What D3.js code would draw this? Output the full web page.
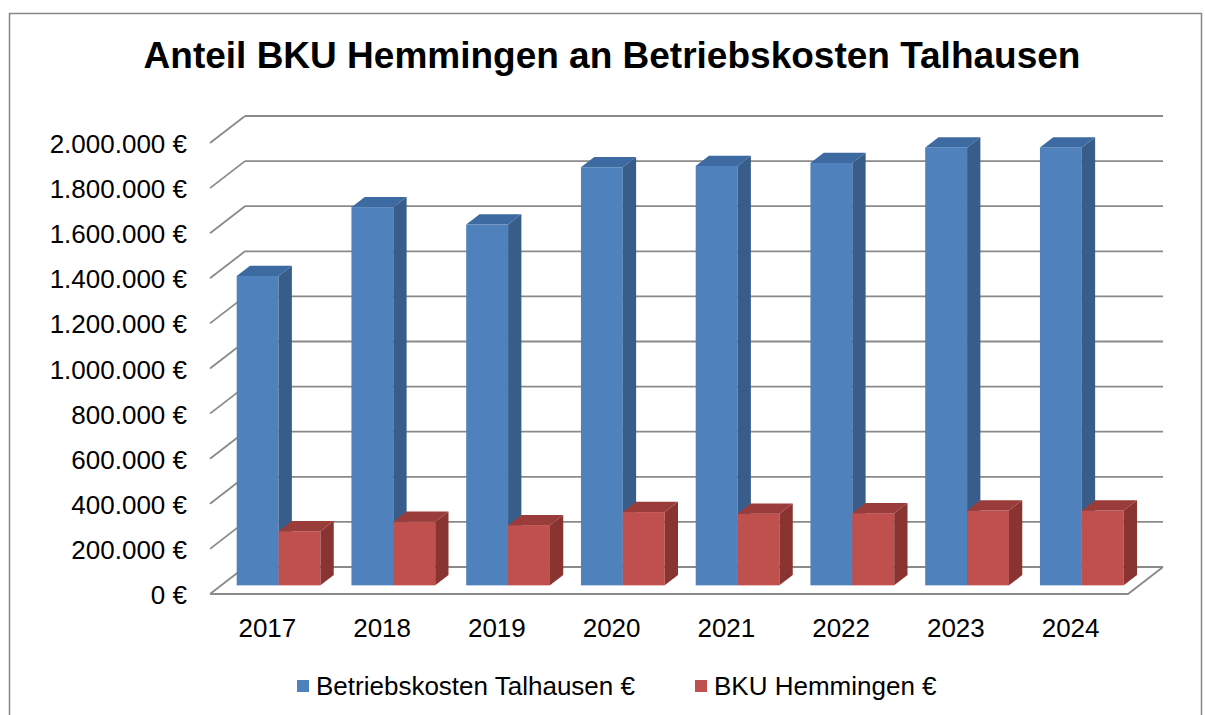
<!DOCTYPE html>
<html>
<head>
<meta charset="utf-8">
<script src="https://cdn.jsdelivr.net/npm/d3@7"></script>
<style>
  body { margin: 0; background: #fff; }
  text { font-family: "Liberation Sans", Arial, sans-serif; fill: #000; }
</style>
</head>
<body>
<script>
var years = ['2017', '2018', '2019', '2020', '2021', '2022', '2023', '2024'];
var betriebskosten = [1372000, 1677000, 1600000, 1854000, 1860000, 1873000, 1942000, 1942000];
var bkuHemmingen = [240000, 282000, 267000, 325000, 318000, 320000, 332000, 332000];
var seriesNames = ['Betriebskosten Talhausen €', 'BKU Hemmingen €'];
var yTicks = [0, 200000, 400000, 600000, 800000, 1000000, 1200000, 1400000, 1600000, 1800000, 2000000];

var width = 1205, height = 715;
var front = { left: 210, right: 1128, bottom: 594 };
var depthX = 35, depthY = 27;          // oblique offset of back wall
var f0 = 0.32, f1 = 0.70;              // bar depth position (fraction)

var colors = {
  front: ['#4f81bd', '#c0504d'],
  side:  ['#385d8a', '#8a3432'],
  top:   ['#3d6aa1', '#9a3d3a']
};

var fmt = d3.formatLocale({ decimal: ',', thousands: '.', grouping: [3], currency: ['', ''] }).format(',.0f');

var svg = d3.select('body')
  .append('svg')
  .attr('width', width)
  .attr('height', height);

// outer border
svg.append('rect')
  .attr('x', 9.5).attr('y', 13.5)
  .attr('width', 1192).attr('height', 720)
  .attr('fill', '#fff')
  .attr('stroke', '#868686')
  .attr('stroke-width', 1.5);

svg.append('text')
  .attr('x', 612).attr('y', 68)
  .attr('text-anchor', 'middle')
  .attr('font-size', 37)
  .attr('font-weight', 'bold')
  .text('Anteil BKU Hemmingen an Betriebskosten Talhausen');

var y = d3.scaleLinear()
  .domain([0, 2000000])
  .range([0, 451]);

var x0 = d3.scaleBand()
  .domain(years)
  .range([front.left, front.right])
  .padding(0);

var x1 = d3.scaleBand()
  .domain([0, 1])
  .range([0, x0.bandwidth()])
  .paddingInner(0)
  .paddingOuter(0.37);

// gridlines: back wall + left side diagonals
var grid = svg.append('g')
  .attr('stroke', '#8a8a8a')
  .attr('stroke-width', 1.8)
  .attr('fill', 'none');

yTicks.forEach(function (v) {
  var yf = front.bottom - y(v);
  var yb = yf - depthY;
  grid.append('line')
    .attr('x1', front.left).attr('y1', yf)
    .attr('x2', front.left + depthX).attr('y2', yb);
  grid.append('line')
    .attr('x1', front.left + depthX).attr('y1', yb)
    .attr('x2', front.right + depthX).attr('y2', yb);
});

// floor front edges
grid.append('path')
  .attr('d', 'M' + front.left + ',' + front.bottom +
             'L' + front.right + ',' + front.bottom +
             'L' + (front.right + depthX) + ',' + (front.bottom - depthY));

// y labels
svg.append('g')
  .selectAll('text')
  .data(yTicks)
  .enter()
  .append('text')
  .attr('x', 187)
  .attr('y', function (d) { return front.bottom - y(d) + 10; })
  .attr('text-anchor', 'end')
  .attr('font-size', 26)
  .text(function (d) { return fmt(d) + ' €'; });

// x labels
svg.append('g')
  .selectAll('text')
  .data(years)
  .enter()
  .append('text')
  .attr('x', function (d) { return x0(d) + x0.bandwidth() / 2; })
  .attr('y', 637)
  .attr('text-anchor', 'middle')
  .attr('font-size', 26)
  .text(function (d) { return d; });

// bars
var ox = depthX * f0, oy = depthY * f0;
var dx = depthX * (f1 - f0), dy = depthY * (f1 - f0);
var base = front.bottom - oy;

var bars = [];
years.forEach(function (yr, i) {
  [betriebskosten[i], bkuHemmingen[i]].forEach(function (v, s) {
    bars.push({ year: yr, s: s, v: v });
  });
});

var barG = svg.append('g')
  .selectAll('g')
  .data(bars)
  .enter()
  .append('g');

function pts(p) { return p.map(function (q) { return q.join(','); }).join(' '); }

barG.each(function (d) {
  var g = d3.select(this);
  var x = x0(d.year) + x1(d.s) + ox;
  var w = x1.bandwidth();
  var top = base - y(d.v);
  g.append('rect')
    .attr('x', x).attr('y', top)
    .attr('width', w).attr('height', base - top)
    .attr('fill', colors.front[d.s]);
  g.append('polygon')
    .attr('points', pts([[x + w, top], [x + w + dx, top - dy], [x + w + dx, base - dy], [x + w, base]]))
    .attr('fill', colors.side[d.s]);
  g.append('polygon')
    .attr('points', pts([[x, top], [x + dx, top - dy], [x + w + dx, top - dy], [x + w, top]]))
    .attr('fill', colors.top[d.s]);
});

// legend
var legendX = [297, 695];
var legend = svg.append('g')
  .selectAll('g')
  .data(seriesNames)
  .enter()
  .append('g')
  .attr('transform', function (d, i) { return 'translate(' + legendX[i] + ',0)'; });

legend.append('rect')
  .attr('x', 0).attr('y', 680)
  .attr('width', 12).attr('height', 12)
  .attr('fill', function (d, i) { return colors.front[i]; });

legend.append('text')
  .attr('x', 19).attr('y', 695)
  .attr('font-size', 26)
  .text(function (d) { return d; });
</script>
</body>
</html>
